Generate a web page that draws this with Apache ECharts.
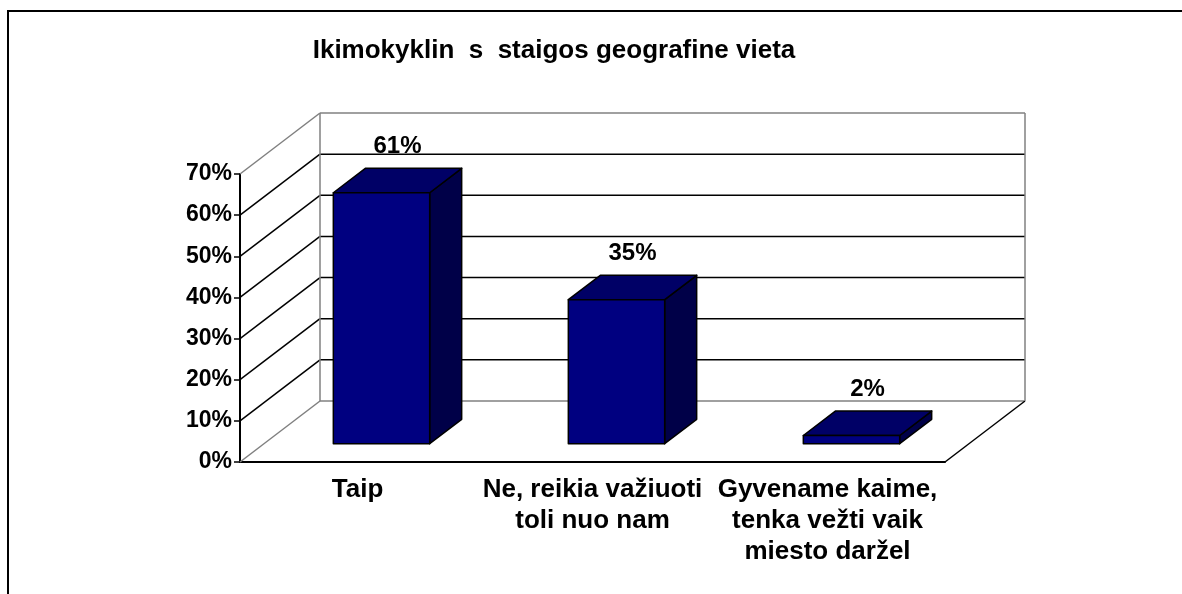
<!DOCTYPE html>
<html>
<head>
<meta charset="utf-8">
<script src="https://cdn.jsdelivr.net/npm/echarts@6/dist/echarts.min.js"></script>
<style>
  html, body { margin: 0; padding: 0; background: #fff; }
  #chart { width: 1182px; height: 594px; }
</style>
</head>
<body>
<div id="chart"></div>
<script>
// data
const categories = ['Taip', 'Ne, reikia važiuoti\ntoli nuo nam', 'Gyvename kaime,\ntenka vežti vaik\nmiesto daržel']
const shares = [0.61, 0.35, 0.02]
const yTicks = [0, 0.1, 0.2, 0.3, 0.4, 0.5, 0.6, 0.7]

const FONT = "'Liberation Sans', Arial, sans-serif"
// 3d depth of the floor (px)
const DEPTH = [80, -61]
const Y_MAX = 0.7

const chart = echarts.init(document.getElementById('chart'))

// back wall, side wall and floor lines
const renderWalls = (params, api) => {
  const v = api.value(1)
  const cs = params.coordSys
  const y = api.coord([0, v])[1]
  const yb = api.coord([0, 0])[1] + DEPTH[1]
  const x0 = cs.x
  const x1 = cs.x + cs.width
  const edge = v === 0 || v === Y_MAX
  const col = edge ? '#808080' : '#000'
  const children = [
    { type: 'line', shape: { x1: x0, y1: y, x2: x0 + DEPTH[0], y2: y + DEPTH[1] }, style: { stroke: col, lineWidth: 1.5 } },
    { type: 'line', shape: { x1: x0 + DEPTH[0], y1: y + DEPTH[1], x2: x1 + DEPTH[0], y2: y + DEPTH[1] }, style: { stroke: col, lineWidth: 1.5 } }
  ]
  if (v === 0) {
    children.push({ type: 'line', shape: { x1: x1, y1: y, x2: x1 + DEPTH[0], y2: y + DEPTH[1] }, style: { stroke: '#000', lineWidth: 1.5 } })
  }
  if (v === Y_MAX) {
    children.push({ type: 'line', shape: { x1: x0 + DEPTH[0], y1: y + DEPTH[1], x2: x0 + DEPTH[0], y2: yb }, style: { stroke: '#808080', lineWidth: 1.5 } })
    children.push({ type: 'line', shape: { x1: x1 + DEPTH[0], y1: y + DEPTH[1], x2: x1 + DEPTH[0], y2: yb }, style: { stroke: '#808080', lineWidth: 1.5 } })
  }
  return { type: 'group', children }
}

// 3d bars
const renderBar = (params, api) => {
  const idx = api.value(0)
  const v = api.value(1)
  const c0 = api.coord([idx, 0])
  const c1 = api.coord([idx, v])
  const band = api.size([1, 0])[0]
  const w = band * 0.41
  const ox = DEPTH[0] * 0.3, oy = DEPTH[1] * 0.3
  const bx = DEPTH[0] * 0.4, by = DEPTH[1] * 0.4
  const l = c0[0] + ox - w / 2
  const r = c0[0] + ox + w / 2
  const bot = c0[1] + oy
  const top = c1[1] + oy
  const edge = { stroke: '#000', lineWidth: 1.5, lineJoin: 'round' }
  return {
    type: 'group',
    children: [
      { type: 'polygon', shape: { points: [[r, top], [r + bx, top + by], [r + bx, bot + by], [r, bot]] }, style: Object.assign({ fill: '#000048' }, edge) },
      { type: 'polygon', shape: { points: [[l, top], [r, top], [r + bx, top + by], [l + bx, top + by]] }, style: Object.assign({ fill: '#000066' }, edge) },
      { type: 'polygon', shape: { points: [[l, top], [r, top], [r, bot], [l, bot]] }, style: Object.assign({ fill: '#000080' }, edge) },
      {
        type: 'text',
        style: {
          x: c0[0] + ox + bx / 2,
          y: top + by / 2 - 34,
          text: Math.round(v * 100) + '%',
          fill: '#000',
          font: 'bold 24px ' + FONT,
          align: 'center',
          verticalAlign: 'middle'
        }
      }
    ]
  }
}

const option = {
  animation: false,
  backgroundColor: '#fff',
  title: {
    text: 'Ikimokyklin  s  staigos geografine vieta',
    left: 549,
    top: 33,
    textAlign: 'center',
    textStyle: { fontFamily: FONT, fontWeight: 'bold', fontSize: 26, color: '#000' }
  },
  graphic: [
    {
      type: 'polyline',
      shape: { points: [[8, 600], [8, 11], [1190, 11]] },
      style: { stroke: '#000', lineWidth: 2, fill: null }
    }
  ],
  grid: { left: 240, right: 237, top: 174, bottom: 132 },
  xAxis: {
    type: 'category',
    data: categories,
    axisLine: { lineStyle: { color: '#000', width: 2 } },
    axisTick: { length: 7, lineStyle: { color: '#000', width: 1.5 } },
    axisLabel: {
      interval: 0,
      margin: 12,
      fontFamily: FONT,
      fontWeight: 'bold',
      fontSize: 26,
      lineHeight: 31,
      color: '#000'
    },
    splitLine: { show: false }
  },
  yAxis: {
    type: 'value',
    min: 0,
    max: Y_MAX,
    interval: 0.1,
    axisLine: { show: true, lineStyle: { color: '#000', width: 2 } },
    axisTick: { show: true, length: 6, lineStyle: { color: '#000', width: 1.5 } },
    axisLabel: {
      margin: 8,
      fontFamily: FONT,
      fontWeight: 'bold',
      fontSize: 23,
      color: '#000',
      formatter: (v) => Math.round(v * 100) + '%'
    },
    splitLine: { show: false }
  },
  series: [
    {
      type: 'custom',
      name: 'walls',
      renderItem: renderWalls,
      data: yTicks.map((v) => [0, v]),
      encode: { x: 0, y: 1 },
      silent: true,
      z: 1
    },
    {
      type: 'custom',
      name: 'shares',
      renderItem: renderBar,
      data: shares.map((v, i) => [i, v]),
      encode: { x: 0, y: 1 },
      z: 3
    }
  ]
}

chart.setOption(option)
</script>
</body>
</html>
